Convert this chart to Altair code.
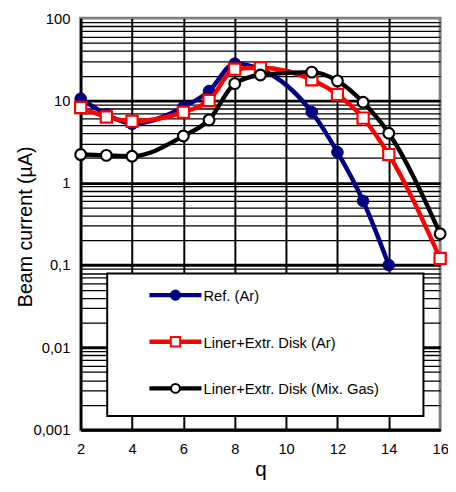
import altair as alt
import pandas as pd

# ---- data ----
q_ref = [2, 3, 4, 6, 7, 8, 9, 11, 12, 13, 14]
ref_ar = [10.5, 6.8, 5.2, 8.3, 13.0, 28.0, 24.0, 7.2, 2.35, 0.6, 0.1]

q_liner = [2, 3, 4, 6, 7, 8, 9, 11, 12, 13, 14, 16]
liner_ar = [8.2, 6.3, 5.6, 7.2, 10.0, 24.0, 25.0, 17.8, 11.8, 6.1, 2.2, 0.12]

q_mix = [2, 3, 4, 6, 7, 8, 9, 11, 12, 13, 14, 16]
liner_mix = [2.2, 2.15, 2.1, 3.7, 5.8, 16.0, 20.4, 22.1, 17.3, 9.5, 4.0, 0.24]

series_names = ["Ref. (Ar)", "Liner+Extr. Disk (Ar)", "Liner+Extr. Disk (Mix. Gas)"]
series_colors = ["#000080", "#FF0000", "#000000"]

x_ticks = [2, 4, 6, 8, 10, 12, 14, 16]
y_decades = [0.001, 0.01, 0.1, 1, 10, 100]
y_decade_labels = ["0,001", "0,01", "0,1", "1", "10", "100"]
y_ticks = [round(m * 10 ** e, 6) for e in range(-3, 2) for m in range(1, 10)] + [100]

FONT = "Liberation Sans"

dec_list = "[" + ",".join(repr(v) for v in y_decades) + "]"
label_expr = " : ".join(
    f"datum.value == {v} ? '{l}'" for v, l in zip(y_decades, y_decade_labels)
) + " : ''"
is_decade = f"indexof({dec_list}, datum.value) >= 0"

x_scale = alt.Scale(domain=[2, 16], nice=False, zero=False)
y_scale = alt.Scale(type="log", domain=[0.001, 100], nice=False)

x_axis = alt.Axis(
    values=x_ticks, title="q", grid=True,
    gridColor={"condition": {"test": "datum.value == 16", "value": "transparent"}, "value": "#000000"},
    gridWidth=2, ticks=False, domainColor="#000000", domainWidth=2.5,
    labelFont=FONT, labelFontSize=15, labelColor="#000000", labelPadding=12, labelFlush=False,
    labelOverlap=False, labelBound=False,
    titleFont=FONT, titleFontSize=21, titleFontWeight="normal", titleColor="#000000", titlePadding=3,
)
y_axis = alt.Axis(
    values=y_ticks, labelExpr=label_expr, title="Beam current (µA)", grid=True,
    gridColor={"condition": {"test": "datum.value == 100", "value": "transparent"}, "value": "#000000"},
    gridWidth={"condition": {"test": is_decade, "value": 3}, "value": 1.3},
    ticks=False, domainColor="#000000", domainWidth=2.5,
    labelFont=FONT, labelFontSize=15, labelColor="#000000", labelPadding=11, labelFlush=False,
    labelOverlap=False, labelBound=False,
    titleFont=FONT, titleFontSize=20, titleFontWeight="normal", titleColor="#000000",
    titleX=-46, titleY=212,
)

df_ref = pd.DataFrame({"q": q_ref, "v": ref_ar})
df_liner = pd.DataFrame({"q": q_liner, "v": liner_ar})
df_mix = pd.DataFrame({"q": q_mix, "v": liner_mix})

enc_x = alt.X("q:Q", scale=x_scale, axis=x_axis)
enc_y = alt.Y("v:Q", scale=y_scale, axis=y_axis)

def series_layers(df, color, shape, fill, size, sw):
    line = alt.Chart(df).mark_line(color=color, strokeWidth=4.5, interpolate="monotone").encode(x=enc_x, y=enc_y)
    pts = alt.Chart(df).mark_point(shape=shape, filled=True, fill=fill, stroke=color,
                                   strokeWidth=sw, size=size, opacity=1).encode(x=enc_x, y=enc_y)
    return [line, pts]

layers = []
layers += series_layers(df_ref, series_colors[0], "circle", series_colors[0], 140, 1)
layers += series_layers(df_liner, series_colors[1], "square", "#FFFFFF", 130, 2.2)
layers += series_layers(df_mix, series_colors[2], "circle", "#FFFFFF", 120, 2.2)

# ---- legend box drawn inside the plot ----
one = pd.DataFrame({"a": [0]})
layers.append(
    alt.Chart(one).mark_rect(fill="#FFFFFF", stroke="#000000", strokeWidth=2).encode(
        x=alt.value(27), x2=alt.value(349), y=alt.value(260), y2=alt.value(405)
    )
)
leg_shapes = [("circle", series_colors[0], 110, 1), ("square", "#FFFFFF", 90, 2), ("circle", "#FFFFFF", 80, 2)]
for i, name in enumerate(series_names):
    yy = 282 + i * 47.5
    layers.append(
        alt.Chart(one).mark_rule(color=series_colors[i], strokeWidth=4.5).encode(
            x=alt.value(70), x2=alt.value(123), y=alt.value(yy)
        )
    )
    shp, fill, sz, sw = leg_shapes[i]
    layers.append(
        alt.Chart(one).mark_point(shape=shp, filled=True, fill=fill, stroke=series_colors[i],
                                  strokeWidth=sw, size=sz, opacity=1).encode(
            x=alt.value(96.5), y=alt.value(yy)
        )
    )
    layers.append(
        alt.Chart(one).mark_text(align="left", baseline="middle", font=FONT, fontSize=15,
                                 color="#000000", text=name).encode(
            x=alt.value(125), y=alt.value(yy + 1)
        )
    )

chart = alt.layer(*layers).properties(
    width=366, height=419,
    autosize=alt.AutoSizeParams(type="none"),
    padding={"left": 74, "top": 6, "right": 8, "bottom": 51},
    background="#FFFFFF",
).configure_view(stroke="#808080", strokeWidth=3)

chart.save("out.html", embed_options={"renderer": "svg", "actions": False})
